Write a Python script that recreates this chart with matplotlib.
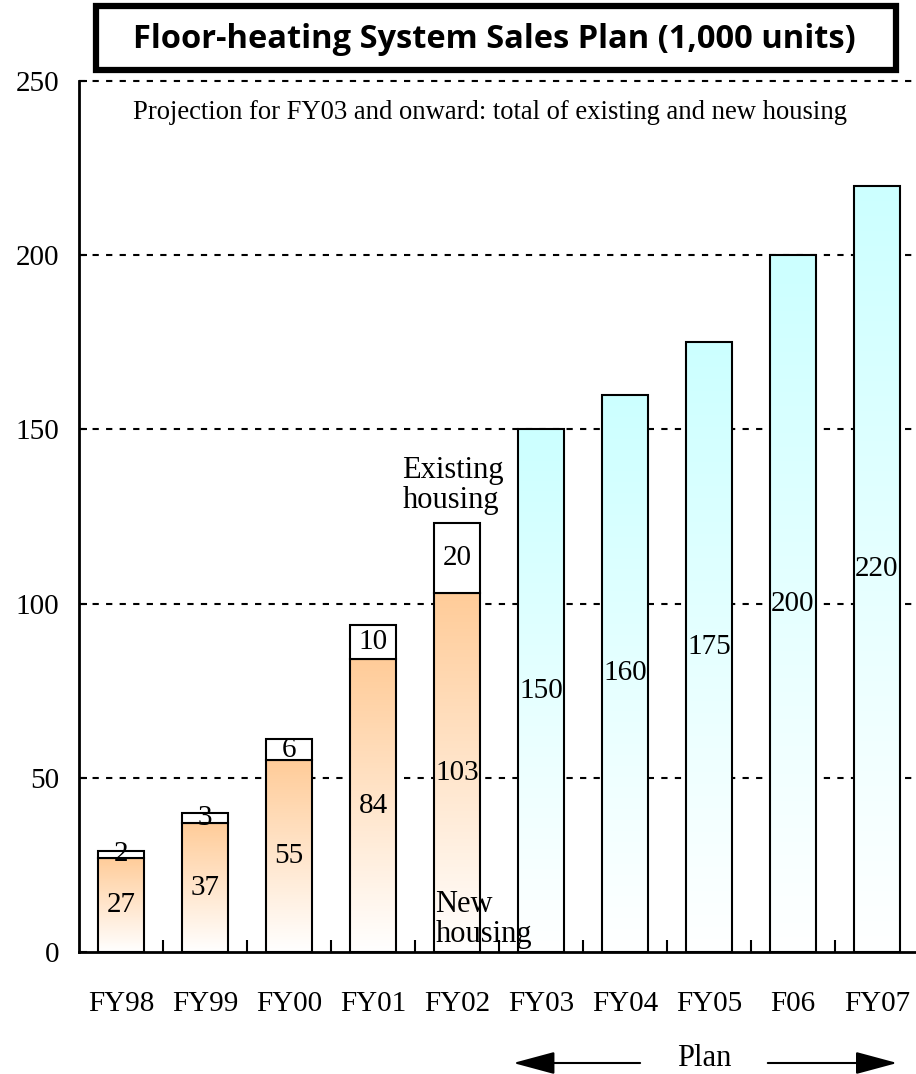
import numpy as np
import matplotlib
matplotlib.use("Agg")
import matplotlib.pyplot as plt
from matplotlib.colors import LinearSegmentedColormap
from matplotlib.patches import Rectangle

# data
years = ["FY98", "FY99", "FY00", "FY01", "FY02", "FY03", "FY04", "FY05", "F06", "FY07"]
new_housing = [27, 37, 55, 84, 103]          # actual, new housing
existing_housing = [2, 3, 6, 10, 20]         # actual, existing housing
plan_total = [150, 160, 175, 200, 220]       # plan FY03 onward

plt.rcParams['font.family'] = ['Liberation Serif', 'DejaVu Serif']

fig = plt.figure(figsize=(9.16, 10.74), dpi=100)
ax = fig.add_axes([79 / 916, 122 / 1074, 840 / 916, 871 / 1074])

orange = LinearSegmentedColormap.from_list("orange", ["#ffffff", "#ffcc99"])
cyan = LinearSegmentedColormap.from_list("cyan", ["#ffffff", "#ccffff"])
grad = np.linspace(0, 1, 256).reshape(-1, 1)

width = 0.55


def gradient_bar(rect, cmap):
    x0, y0 = rect.get_x(), rect.get_y()
    w, h = rect.get_width(), rect.get_height()
    im = ax.imshow(grad, cmap=cmap, extent=[x0, x0 + w, y0, y0 + h],
                   origin='lower', aspect='auto', zorder=2, interpolation='bilinear')
    im.set_clip_path(rect)


x_act = np.arange(len(new_housing))
x_plan = np.arange(len(new_housing), len(years))

bars_new = ax.bar(x_act, new_housing, width, facecolor='none', edgecolor='black', lw=1.5, zorder=3)
bars_ex = ax.bar(x_act, existing_housing, width, bottom=new_housing, facecolor='white',
                 edgecolor='black', lw=1.5, zorder=3)
bars_plan = ax.bar(x_plan, plan_total, width, facecolor='none', edgecolor='black', lw=1.5, zorder=3)

for b in bars_new:
    gradient_bar(b, orange)
for b in bars_plan:
    gradient_bar(b, cyan)

# value labels at bar midpoints
fs = 21
for i, v in enumerate(new_housing):
    ax.text(i, v / 2, str(v), ha='center', va='center', fontsize=fs, zorder=5)
for i, (n, e) in enumerate(zip(new_housing, existing_housing)):
    ax.text(i, n + e / 2, str(e), ha='center', va='center', fontsize=fs, zorder=5)
for i, v in zip(x_plan, plan_total):
    ax.text(i, v / 2, str(v), ha='center', va='center', fontsize=fs, zorder=5)

ax.text(4 - 0.65, 127.5, "Existing\nhousing", ha='left', va='baseline', fontsize=22,
        linespacing=1.05, zorder=5)
ax.text(4 - width / 2 + 0.02, 2.9, "New\nhousing", ha='left', va='baseline', fontsize=22,
        linespacing=1.05, zorder=5)
ax.text(4.39, 241, "Projection for FY03 and onward: total of existing and new housing",
        ha='center', va='center', fontsize=19.2, zorder=5)

ax.set_xlim(-0.5, 9.5)
ax.set_ylim(0, 250)

# dashed gridlines
for yv in [50, 100, 150, 200, 250]:
    ax.axhline(yv, color='black', lw=1.5, ls=(0, (3, 3.5)), zorder=1, clip_on=False)

ax.set_yticks([0, 50, 100, 150, 200, 250])
ax.tick_params(axis='y', direction='in', length=6, width=1.5, labelsize=fs, pad=14)
ax.set_xticks(np.arange(len(years)))
ax.set_xticklabels(years)
ax.tick_params(axis='x', which='major', length=0, labelsize=21, pad=28)
ax.set_xticks(np.arange(len(years) - 1) + 0.5, minor=True)
ax.tick_params(axis='x', which='minor', direction='in', length=9, width=1.5)

for s in ['top', 'right']:
    ax.spines[s].set_visible(False)
ax.spines['left'].set_linewidth(2)
ax.spines['bottom'].set_linewidth(2)

# plan arrows
ya = (1074 - 1063) / 1074
arrow = dict(arrowstyle='-|>,head_length=1.3,head_width=0.35',
             color='black', lw=1.5, mutation_scale=20, shrinkA=0, shrinkB=0)
ax.annotate("", xy=(4.67, ya), xytext=(6.18, ya), xycoords=('data', 'figure fraction'),
            textcoords=('data', 'figure fraction'), arrowprops=arrow)
ax.annotate("", xy=(9.24, ya), xytext=(7.70, ya), xycoords=('data', 'figure fraction'),
            textcoords=('data', 'figure fraction'), arrowprops=arrow)
ax.annotate("Plan", xy=(6.94, (1074 - 1066) / 1074), xycoords=('data', 'figure fraction'),
            ha='center', va='baseline', fontsize=22)

# title box
fig.patches.append(Rectangle((96 / 916, 1 - 70 / 1074), 800 / 916, 64 / 1074,
                             transform=fig.transFigure, facecolor='white',
                             edgecolor='black', lw=4.5))
fig.text(494.5 / 916, 1 - 39 / 1074, "Floor-heating System Sales Plan (1,000 units)",
         ha='center', va='center', fontsize=23.5, fontweight='bold', family='Open Sans')

fig.savefig("out.png", dpi=100)
